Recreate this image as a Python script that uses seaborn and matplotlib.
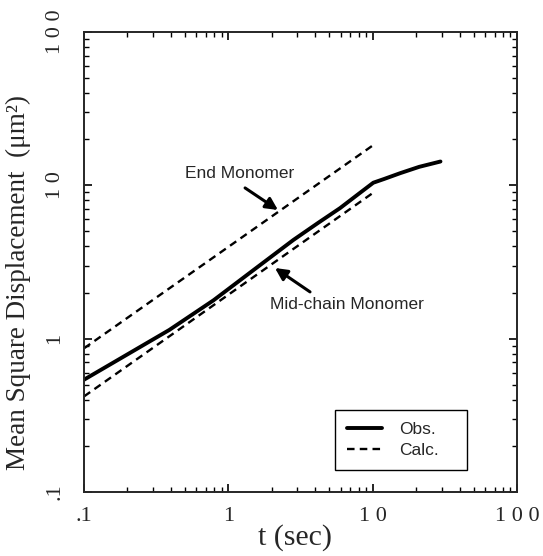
import matplotlib
matplotlib.use("Agg")
import matplotlib.pyplot as plt
import seaborn as sns
import pandas as pd
import numpy as np
from matplotlib.ticker import FixedLocator, LogLocator, NullFormatter

# ---- data ----
obs_t = [0.1, 0.2, 0.39, 0.79, 1.5, 2.82, 4.2, 5.94, 8.0, 10.1, 12.0, 15.5, 21.0, 29.5]
obs_msd = [0.54, 0.79, 1.14, 1.78, 2.81, 4.4, 5.7, 7.1, 8.8, 10.4, 11.0, 12.0, 13.2, 14.3]

end_t = [0.1, 10.1]
end_msd = [0.865, 18.3]

mid_t = [0.1, 10.1]
mid_msd = [0.42, 8.96]

x_ticks = [0.1, 1, 10, 100]
x_ticklabels = [".1", "1", "1 0", "1 0 0"]
y_ticks = [0.1, 1, 10, 100]
y_ticklabels = [".1", "1", "1 0", "1 0 0"]

sns.set_theme(style="ticks")
plt.rcParams["font.family"] = ["Liberation Serif", "DejaVu Serif"]
plt.rcParams["axes.linewidth"] = 1.4

fig = plt.figure(figsize=(5.43, 5.56), dpi=100)
ax = fig.add_axes([84 / 543, (556 - 492) / 556, 433 / 543, 460 / 556])

obs_df = pd.DataFrame({"t": obs_t, "msd": obs_msd})
end_df = pd.DataFrame({"t": end_t, "msd": end_msd})
mid_df = pd.DataFrame({"t": mid_t, "msd": mid_msd})

sns.lineplot(data=obs_df, x="t", y="msd", ax=ax, color="black", lw=2.8,
             label="Obs.", estimator=None, sort=False)
sns.lineplot(data=end_df, x="t", y="msd", ax=ax, color="black", lw=1.7,
             label="Calc.", estimator=None, sort=False)
sns.lineplot(data=mid_df, x="t", y="msd", ax=ax, color="black", lw=1.7,
             label="_nolegend_", estimator=None, sort=False)
lines = ax.get_lines()
for ln in lines[1:3]:
    ln.set_linestyle((0, (3.2, 2.2)))

ax.set_xscale("log")
ax.set_yscale("log")
ax.set_xlim(0.1, 100)
ax.set_ylim(0.1, 100)

ax.xaxis.set_major_locator(FixedLocator(x_ticks))
ax.yaxis.set_major_locator(FixedLocator(y_ticks))
ax.set_xticklabels(x_ticklabels)
ax.set_yticklabels(y_ticklabels)
ax.xaxis.set_minor_locator(LogLocator(base=10, subs=np.arange(2, 10)))
ax.yaxis.set_minor_locator(LogLocator(base=10, subs=np.arange(2, 10)))
ax.xaxis.set_minor_formatter(NullFormatter())
ax.yaxis.set_minor_formatter(NullFormatter())

ax.tick_params(which="both", direction="in", top=True, right=True, color="black")
ax.tick_params(which="major", length=6, width=1.2)
ax.tick_params(which="minor", length=3.5, width=1.0)
ax.tick_params(axis="x", which="major", labelsize=16, pad=11)
ax.tick_params(axis="y", which="major", labelsize=16, pad=14, labelrotation=90)
for lbl in ax.get_yticklabels():
    lbl.set_va("center")

ax.set_xlabel("t (sec)", fontsize=21.5, labelpad=0)
ax.xaxis.set_label_coords((295 - 84) / 433, (492 - 524) / 460)
ax.set_ylabel("Mean Square Displacement  (\u03bcm\u00b2)", fontsize=19.5)
ax.yaxis.set_label_coords((31 - 84) / 433, (492 - 282) / 460)

sans = ["Liberation Sans", "DejaVu Sans"]
ax.text(0.360, 0.693, "End Monomer", transform=ax.transAxes, ha="center", va="center",
        fontsize=12.5, family=sans)
ax.annotate("", xy=(0.448, 0.613), xytext=(0.372, 0.661), xycoords="axes fraction",
            textcoords="axes fraction",
            arrowprops=dict(arrowstyle="-|>", lw=2.2, color="black", mutation_scale=18,
                            shrinkA=0, shrinkB=0))
ax.text(0.607, 0.407, "Mid-chain Monomer", transform=ax.transAxes, ha="center", va="center",
        fontsize=12.5, family=sans)
ax.annotate("", xy=(0.441, 0.487), xytext=(0.522, 0.435), xycoords="axes fraction",
            textcoords="axes fraction",
            arrowprops=dict(arrowstyle="-|>", lw=2.2, color="black", mutation_scale=18,
                            shrinkA=0, shrinkB=0))

leg = ax.legend(loc="upper left", bbox_to_anchor=((335 - 84) / 433, (492 - 410) / 460,
                                                  (467 - 335) / 433, 0.0),
                mode="expand", frameon=True, fancybox=False,
                prop={"family": sans, "size": 12.5}, handlelength=2.0, handletextpad=1.0,
                borderpad=0.7, labelspacing=0.3, borderaxespad=0)
leg.get_frame().set_edgecolor("black")
leg.get_frame().set_linewidth(1.0)
leg.get_frame().set_alpha(1)

fig.savefig("out.png", dpi=100)
